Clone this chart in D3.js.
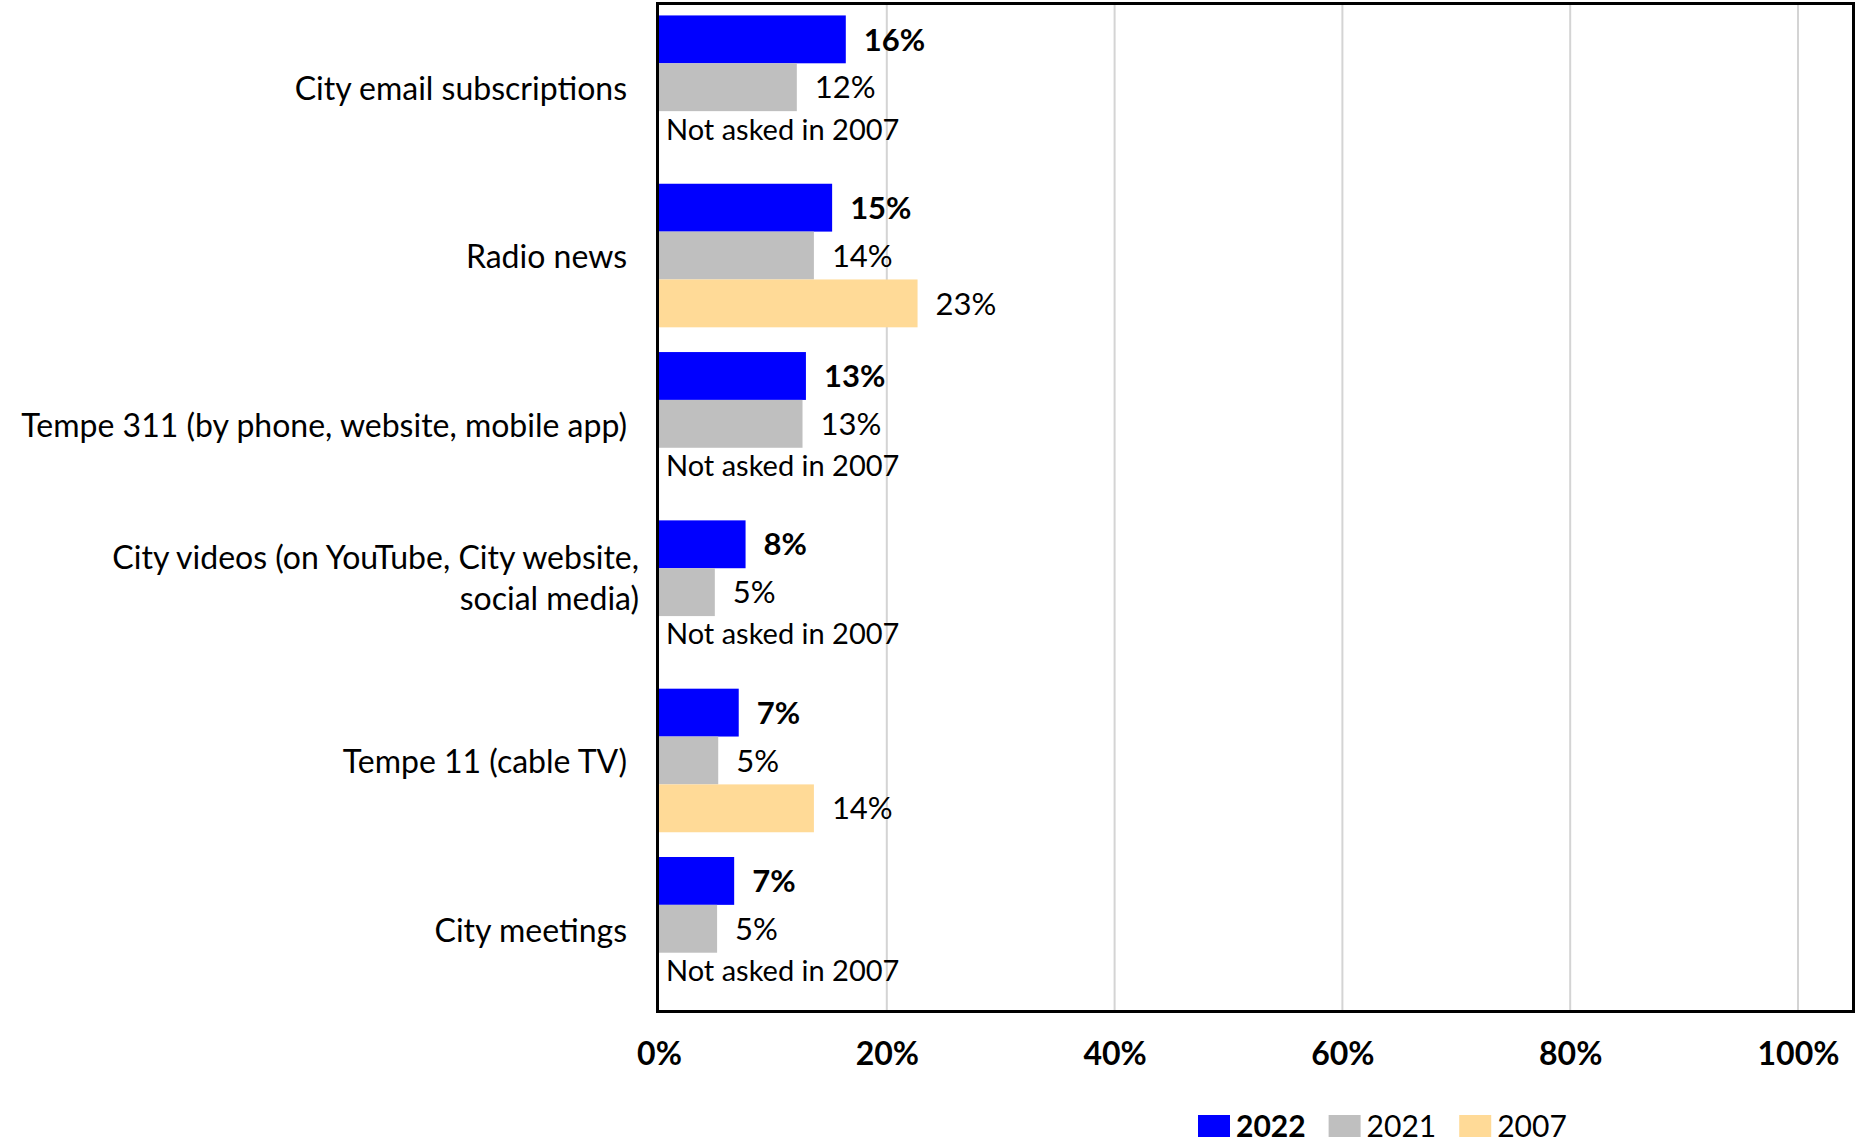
<!DOCTYPE html>
<html>
<head>
<meta charset="utf-8">
<script src="https://cdn.jsdelivr.net/npm/d3@7"></script>
<style>
  body { margin: 0; background: #fff; }
  svg { display: block; font-family: Lato, "Open Sans", sans-serif; }
</style>
</head>
<body>
<div id="chart"></div>
<script>
// dados (em %)
const categories = [
  "City email subscriptions",
  "Radio news",
  "Tempe 311 (by phone, website, mobile app)",
  "City videos (on YouTube, City website, social media)",
  "Tempe 11 (cable TV)",
  "City meetings"
];
const seriesNames = ["2022", "2021", "2007"];
const values2022 = [16.4, 15.2, 12.9, 7.6, 7.0, 6.6];
const values2021 = [12.1, 13.6, 12.6, 4.9, 5.2, 5.1];
const values2007 = [null, 22.7, null, null, 13.6, null];
const xTicks = [0, 20, 40, 60, 80, 100];
const notAskedText = "Not asked in 2007";

const W = 1856, H = 1144;
const colors = { "2022": "#0000ff", "2021": "#bfbfbf", "2007": "#ffda97" };

const rows = categories.map((c, i) => ({
  cat: c,
  vals: { "2022": values2022[i], "2021": values2021[i], "2007": values2007[i] }
}));

const svg = d3.select('#chart').append('svg')
  .attr('width', W)
  .attr('height', H);

// escalas
const x = d3.scaleLinear().domain([0, 100]).range([659, 1798]);

const y = d3.scaleBand()
  .domain(categories)
  .range([5, 1011])
  .paddingInner(0.147)
  .paddingOuter(0.062);

const ySub = d3.scaleBand()
  .domain(seriesNames)
  .range([0, y.bandwidth()]);

// grid vertical
svg.append('g')
  .selectAll('line')
  .data(xTicks.filter(t => t > 0))
  .join('line')
  .attr('x1', d => x(d)).attr('x2', d => x(d))
  .attr('y1', 4).attr('y2', 1011)
  .attr('stroke', '#d4d4d4')
  .attr('stroke-width', 2);

// barras
const groups = svg.append('g')
  .selectAll('g.cat')
  .data(rows)
  .join('g')
  .attr('class', 'cat')
  .attr('transform', d => `translate(0,${y(d.cat)})`);

groups.selectAll('rect')
  .data(d => seriesNames.filter(s => d.vals[s] != null).map(s => ({ s, v: d.vals[s] })))
  .join('rect')
  .attr('x', x(0))
  .attr('y', d => ySub(d.s))
  .attr('width', d => x(d.v) - x(0))
  .attr('height', ySub.bandwidth())
  .attr('fill', d => colors[d.s]);

// rótulos de valor
groups.selectAll('text.value')
  .data(d => seriesNames.filter(s => d.vals[s] != null).map(s => ({ s, v: d.vals[s] })))
  .join('text')
  .attr('class', 'value')
  .attr('x', d => x(d.v) + 18)
  .attr('y', d => ySub(d.s) + ySub.bandwidth() / 2)
  .attr('dy', '0.36em')
  .style('font-size', '31px')
  .style('font-weight', d => d.s === '2022' ? 700 : 400)
  .text(d => Math.round(d.v) + '%');

// "Not asked in 2007"
groups.filter(d => d.vals["2007"] == null)
  .append('text')
  .attr('x', x(0) + 7)
  .attr('y', ySub("2007") + ySub.bandwidth() / 2 - 6)
  .attr('dy', '0.36em')
  .style('font-size', '29px')
  .text(notAskedText);

// eixo Y (categorias)
const wrapped = {
  "City videos (on YouTube, City website, social media)": ["City videos (on YouTube, City website,", "social media)"]
};
const yAxisG = svg.append('g')
  .attr('transform', `translate(627,0)`)
  .call(d3.axisLeft(y).tickSize(0).tickPadding(0));
yAxisG.select('.domain').remove();
yAxisG.selectAll('text')
  .style('font-size', '32px')
  .style('font-family', 'Lato, "Open Sans", sans-serif')
  .attr('fill', '#000')
  .attr('dy', '0.4em')
  .each(function (d) {
    const lines = wrapped[d];
    if (!lines) return;
    const t = d3.select(this).text(null).attr('x', 12).attr('dy', null).attr('y', -23);
    lines.forEach((ln, i) => {
      t.append('tspan').attr('x', 12).attr('dy', i === 0 ? 0 : 41).text(ln);
    });
  });

// borda da área do gráfico
svg.append('rect')
  .attr('x', 657.5).attr('y', 3.5)
  .attr('width', 1196).attr('height', 1008)
  .attr('fill', 'none')
  .attr('stroke', '#000')
  .attr('stroke-width', 3);

// eixo X
const xAxisG = svg.append('g')
  .attr('transform', `translate(0,1042)`)
  .call(d3.axisBottom(x).tickValues(xTicks).tickSize(0).tickPadding(0).tickFormat(d => d + '%'));
xAxisG.select('.domain').remove();
xAxisG.selectAll('text')
  .attr('dy', '0.72em')
  .style('font-size', '32px')
  .style('font-weight', 700)
  .style('font-family', 'Lato, "Open Sans", sans-serif')
  .attr('fill', '#000');

// legenda
const legend = svg.append('g').attr('transform', 'translate(1198,1115)');
let lx = 0;
seriesNames.forEach(s => {
  const item = legend.append('g').attr('transform', `translate(${lx},0)`);
  item.append('rect').attr('width', 32).attr('height', 22).attr('fill', colors[s]);
  const txt = item.append('text')
    .attr('x', 38).attr('y', 22)
    .style('font-size', '30px')
    .style('font-weight', s === '2022' ? 700 : 400)
    .text(s);
  lx += 38 + txt.node().getComputedTextLength() + 23;
});
</script>
</body>
</html>
